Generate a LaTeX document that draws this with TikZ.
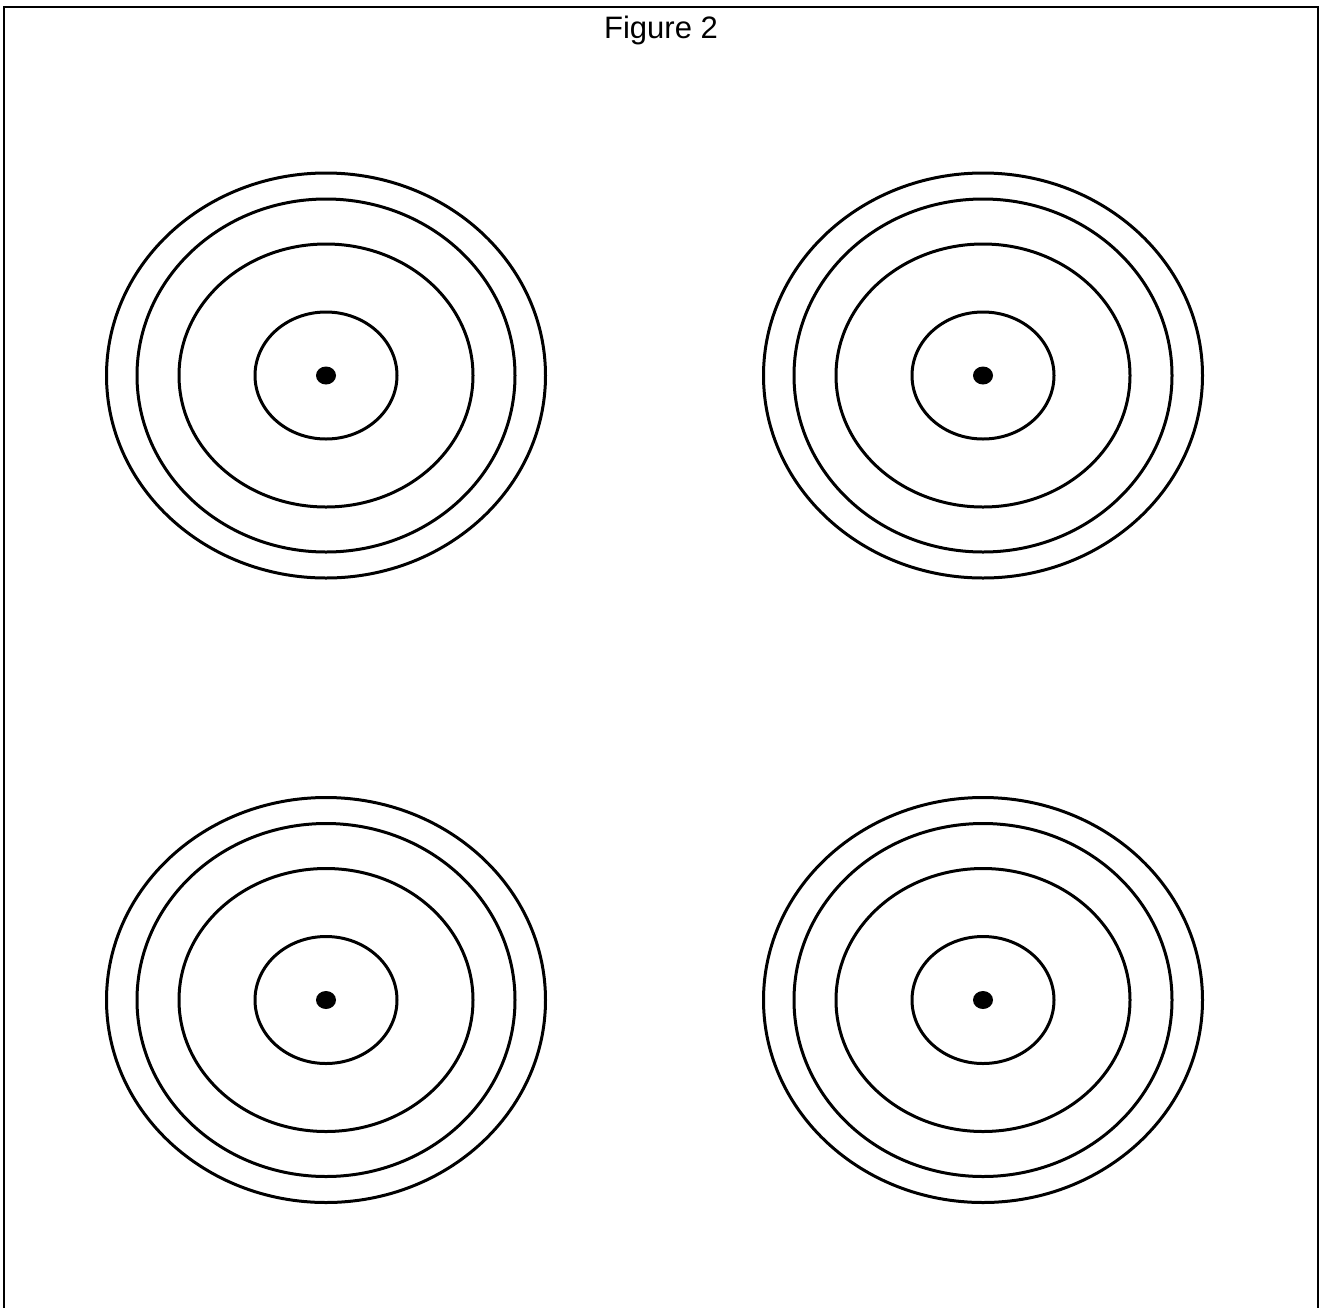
\documentclass[tikz,border=0pt]{standalone}
\usepackage{fontspec}
\setmainfont{Liberation Sans}
\begin{document}
\begin{tikzpicture}[x=1pt,y=-1pt,
  ring/.style={draw=black,line width=3pt},
  bull/.style={fill=black},
  framestyle/.style={draw=black,line width=2pt,line join=miter}]
\useasboundingbox (0,0) rectangle (1320,1307);
\coordinate (fbl) at (3.5,1310);
\coordinate (ftl) at (3.5,6.5);
\coordinate (ftr) at (1318,6.5);
\coordinate (fbr) at (1318,1310);
\draw[framestyle] (fbl) -- (ftl) -- (ftr) -- (fbr);
\node[font=\fontsize{31}{31}\selectfont, anchor=base, inner sep=0pt] (title) at (661,38) {Figure 2};
\foreach \n/\cx/\cy in {tl/326/375.5, tr/983/375.5, bl/326/1000, br/983/1000} {
  \coordinate (\n) at (\cx,\cy);
  \draw[ring] (\n) ellipse [x radius=219.5pt, y radius=202.5pt];
  \draw[ring] (\n) ellipse [x radius=189pt, y radius=176.5pt];
  \draw[ring] (\n) ellipse [x radius=147pt, y radius=131.5pt];
  \draw[ring] (\n) ellipse [x radius=71pt, y radius=63.5pt];
  \fill[bull] (\n) ellipse [x radius=10pt, y radius=9pt];
}
\end{tikzpicture}
\end{document}
